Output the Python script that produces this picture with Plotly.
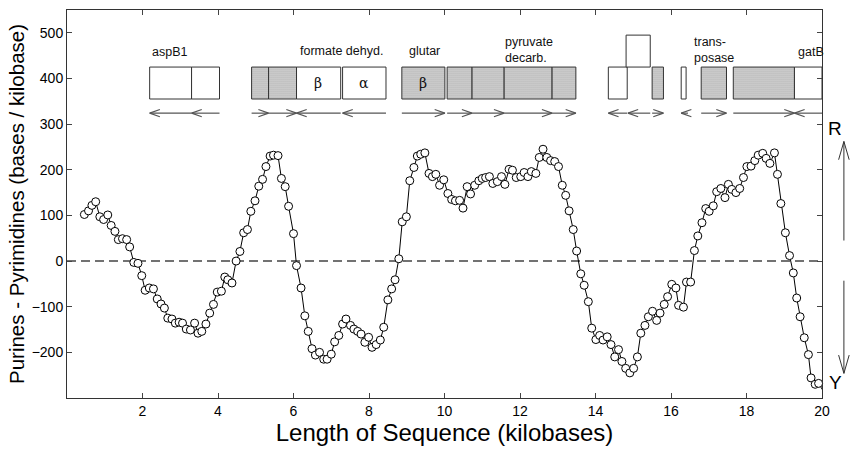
import plotly.graph_objects as go

# ---- data: purine-pyrimidine skew (bases/kilobase) vs position (kb)
pos_kb = [0.46,0.57,0.66,0.76,0.87,0.97,1.08,1.17,1.27,1.36,
          1.47,1.58,1.66,1.77,1.88,1.98,2.07,2.18,2.29,2.39,
          2.49,2.58,2.67,2.78,2.87,2.97,3.06,3.16,3.27,3.38,
          3.47,3.57,3.68,3.78,3.88,3.98,4.09,4.18,4.26,4.37,
          4.48,4.58,4.68,4.78,4.87,4.98,5.08,5.18,5.27,5.38,
          5.47,5.59,5.68,5.78,5.87,6.0,6.08,6.2,6.3,6.39,
          6.49,6.58,6.69,6.8,6.89,7.0,7.09,7.2,7.3,7.39,
          7.51,7.6,7.7,7.79,7.89,7.99,8.08,8.19,8.3,8.39,
          8.5,8.6,8.69,8.79,8.88,8.99,9.08,9.19,9.28,9.37,
          9.48,9.59,9.68,9.77,9.87,9.98,10.09,10.19,10.29,10.4,
          10.49,10.6,10.69,10.8,10.91,11.0,11.09,11.19,11.28,11.4,
          11.51,11.6,11.71,11.8,11.9,12.02,12.11,12.21,12.3,12.42,
          12.51,12.61,12.71,12.81,12.92,13.02,13.12,13.21,13.3,13.41,
          13.5,13.61,13.7,13.81,13.9,14.01,14.11,14.2,14.31,14.41,
          14.51,14.61,14.7,14.8,14.91,15.01,15.11,15.2,15.31,15.4,
          15.51,15.62,15.71,15.82,15.91,16.02,16.13,16.2,16.33,16.41,
          16.52,16.62,16.71,16.82,16.92,17.01,17.12,17.21,17.32,17.43,
          17.52,17.61,17.72,17.82,17.92,18.01,18.12,18.22,18.31,18.43,
          18.52,18.62,18.74,18.82,18.91,19.03,19.14,19.24,19.33,19.42,
          19.53,19.64,19.71,19.82,19.91,20.02]
skew = [102,110,122,130,97,91,101,78,65,47,
        49,47,31,-3,-5,-32,-64,-59,-61,-83,
        -94,-103,-125,-127,-136,-134,-136,-149,-151,-136,
        -158,-154,-138,-114,-95,-68,-66,-35,-41,-48,
        0,21,62,69,109,132,164,179,207,230,
        232,231,181,163,120,60,-10,-59,-120,-154,
        -192,-206,-200,-215,-215,-204,-177,-163,-138,-127,
        -141,-149,-154,-160,-178,-167,-189,-183,-173,-145,
        -85,-61,-41,5,86,97,176,205,230,234,
        237,192,185,190,166,178,148,135,132,133,
        116,163,147,166,176,181,183,185,170,174,
        185,168,201,199,183,185,194,185,196,192,
        227,245,227,220,218,207,166,144,110,69,
        22,-28,-53,-89,-147,-172,-163,-173,-166,-183,
        -210,-194,-220,-235,-245,-235,-210,-158,-141,-122,
        -110,-130,-114,-95,-78,-51,-59,-97,-101,-46,
        -46,23,55,84,115,109,121,152,159,139,
        168,157,150,159,183,207,208,220,232,236,
        225,214,237,190,126,62,12,-26,-81,-122,
        -168,-205,-256,-270,-268,-283]

# ---- gene map (kb)
gene_start = [2.19,3.30,4.89,5.34,6.08,7.30,8.87,10.07,10.73,11.58,12.85,14.34,14.81,15.50,16.27,16.80,17.65,19.27]
gene_end   = [3.30,4.04,5.34,6.08,7.25,8.45,10.01,10.73,11.58,12.85,13.48,14.84,15.45,15.80,16.40,17.47,19.27,20.0]
gene_shaded= [0,0,1,1,0,0,1,1,1,1,1,0,0,1,0,1,1,0]
gene_row   = [0,0,0,0,0,0,0,0,0,0,0,0,1,0,0,0,0,0]
arrow_tail = [4.04,3.30,4.89,5.34,7.25,8.45,8.87,10.07,10.73,11.58,12.85,14.84,15.45,15.50,16.45,16.80,17.65,20.0]
arrow_head = [3.30,2.19,5.34,6.08,6.08,7.30,10.01,10.73,11.58,12.85,13.48,14.34,14.86,15.80,16.27,17.47,19.27,19.27]
gene_labels = ["aspB1","formate dehyd.","glutar","pyruvate<br>decarb.","trans-<br>posase","gatB"]
label_x     = [2.19,6.11,9.0,11.55,16.56,19.3]
label_y     = [458,461,461,463,463,458]
subunit_txt = ["β","α","β"]
subunit_x   = [6.66,7.87,9.44]

FONT = "Arial, Liberation Sans, sans-serif"
BOX_LO, BOX_H, ARROW_Y = 355, 70, 324

fig = go.Figure()

# zero line
fig.add_shape(type="line", xref="paper", x0=0, x1=1, y0=0, y1=0,
              line=dict(color="#444", width=1.5, dash="9px,5px"), layer="below")

# gene boxes as bars
fig.add_trace(go.Bar(
    x=[(s + e) / 2 for s, e in zip(gene_start, gene_end)],
    width=[e - s for s, e in zip(gene_start, gene_end)],
    y=[BOX_H] * len(gene_start),
    base=[BOX_LO + r * BOX_H for r in gene_row],
    marker=dict(color=["#d6d6d6" if g else "white" for g in gene_shaded],
                line=dict(color="#333", width=1),
                pattern=dict(shape=["." if g else "" for g in gene_shaded],
                             fgcolor="#9a9a9a", size=2, solidity=0.3)),
    showlegend=False, hoverinfo="skip"))

# arrows
ax, ay = [], []
dx, dy = 0.27, 8
for t, h in zip(arrow_tail, arrow_head):
    d = 1 if h > t else -1
    ax += [t, h, None, h - d * dx, h, h - d * dx, None]
    ay += [ARROW_Y, ARROW_Y, None, ARROW_Y + dy, ARROW_Y, ARROW_Y - dy, None]
fig.add_trace(go.Scatter(x=ax, y=ay, mode="lines", line=dict(color="#555", width=1.2),
                         showlegend=False, hoverinfo="skip", connectgaps=False))

# main curve
fig.add_trace(go.Scatter(x=pos_kb, y=skew, mode="lines+markers",
                         line=dict(color="black", width=1),
                         marker=dict(symbol="circle", size=8, color="white",
                                     line=dict(color="black", width=1)),
                         cliponaxis=False, showlegend=False))

for t, x, y in zip(gene_labels, label_x, label_y):
    fig.add_annotation(x=x, y=y, text=t, showarrow=False, xanchor="left", yanchor="middle",
                       align="left", font=dict(family=FONT, size=12.5, color="#111"))
for t, x in zip(subunit_txt, subunit_x):
    fig.add_annotation(x=x, y=BOX_LO + BOX_H / 2, text=t, showarrow=False,
                       font=dict(family="DejaVu Serif, serif", size=14, color="#111"))

# R / Y indicator on the right
xr = 1.029
fig.add_annotation(xref="paper", x=xr, y=291, text="R", showarrow=False,
                   font=dict(family=FONT, size=19, color="black"))
fig.add_annotation(xref="paper", x=xr, y=-266, text="Y", showarrow=False,
                   font=dict(family=FONT, size=19, color="black"))
for y0, y1 in [(45, 262), (-43, -246)]:
    fig.add_shape(type="line", xref="paper", x0=xr, x1=xr, y0=y0, y1=y1,
                  line=dict(color="#333", width=1))
    s = 1 if y1 > y0 else -1
    fig.add_shape(type="path", xref="paper",
                  path=f"M {xr-0.007},{y1 - s*40} L {xr},{y1} L {xr+0.007},{y1 - s*40}",
                  line=dict(color="#333", width=1))

fig.update_layout(
    width=855, height=457, margin=dict(l=67, r=33, t=10, b=59),
    plot_bgcolor="white", paper_bgcolor="white", barmode="overlay",
    font=dict(family=FONT, size=14, color="black"),
    xaxis=dict(range=[0, 20], tickvals=list(range(2, 21, 2)), ticks="inside", ticklen=5,
               showline=True, linecolor="#333", linewidth=1, mirror="ticks",
               showgrid=False, zeroline=False, tickfont=dict(size=14),
               title=dict(text="Length of Sequence (kilobases)", font=dict(size=24), standoff=6)),
    yaxis=dict(range=[-300, 550], tickvals=list(range(-200, 501, 100)), ticks="inside", ticklen=5,
               showline=True, linecolor="#333", linewidth=1, mirror="ticks",
               showgrid=False, zeroline=False, tickfont=dict(size=14),
               title=dict(text="Purines - Pyrimidines (bases / kilobase)", font=dict(size=20.5), standoff=1)),
)

fig.write_html("out.html")
